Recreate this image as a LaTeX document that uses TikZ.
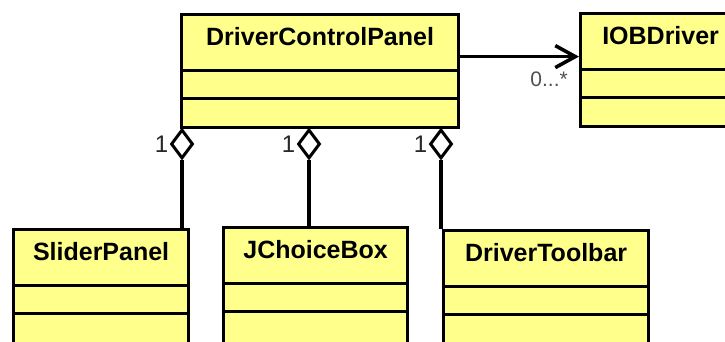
\documentclass[tikz,border=0pt]{standalone}
\usepackage{fontspec}
\setmainfont{Liberation Sans}
\usetikzlibrary{shapes.geometric,arrows.meta,calc}
\definecolor{classfill}{RGB}{255,255,140}
\definecolor{multgray}{RGB}{40,40,40}
\definecolor{assocgray}{RGB}{80,80,80}

% A UML class box: name, x, y of top-left corner, width, height, title
\newcommand\umlclass[6]{%
  \node[classbox, minimum width=#4pt, minimum height=#5pt] (#1) at (#2,#3) {};
  \node[classname] (#1-name) at ($(#1.north)+(0,32)$) {#6};
  \draw[divider] ($(#1.north west)+(0,57)$) -- ($(#1.north east)+(0,57)$);
  \draw[divider] ($(#1.north west)+(0,85)$) -- ($(#1.north east)+(0,85)$);
}

\begin{document}
\begin{tikzpicture}[x=1pt,y=-1pt,
  classbox/.style={draw=black, fill=classfill, line width=3.2pt, inner sep=0pt, anchor=north west},
  classname/.style={font=\fontsize{25}{30}\selectfont\bfseries, anchor=base, inner sep=0pt},
  divider/.style={line width=3pt},
  link/.style={line width=3.2pt},
  agg/.style={shape=diamond, draw=black, fill=white, line width=3pt,
    minimum width=22pt, minimum height=29pt, inner sep=0pt},
  mult/.style={text=multgray, font=\fontsize{24}{26}\selectfont, inner sep=0pt},
  assocmult/.style={text=assocgray, font=\fontsize{21}{23}\selectfont, inner sep=0pt}
]
\useasboundingbox (0,0) rectangle (725,341);
\clip (0,0) rectangle (725,341);
\fill[white] (0,0) rectangle (725,341);

% classes
\umlclass{dcp}{180}{13}{277}{113}{DriverControlPanel}
\umlclass{iob}{579}{12}{160}{113}{IOBDriver}
\umlclass{slider}{12}{228}{175}{130}{SliderPanel}
\umlclass{choice}{222}{226}{184}{130}{JChoiceBox}
\umlclass{toolbar}{442}{229}{205}{130}{DriverToolbar}

% aggregation diamonds under the panel
\node[agg] (d1) at (182,144) {};
\node[agg] (d2) at (309,144) {};
\node[agg] (d3) at (441,144) {};

\foreach \d/\c in {d1/slider, d2/choice, d3/toolbar}{
  \draw[link] (\d.north) -- (\d.north |- dcp.south);
  \draw[link] (\d.south) -- (\d.south |- \c.north);
  \node[mult, anchor=east] at ([xshift=-1pt]\d.west) {1};
}

% directed association to the driver
\coordinate (tip) at ([yshift=14.5pt]dcp.east -| iob.west);
\draw[link, -{Straight Barb[length=20pt, width=22pt, line width=3.6pt]}]
  ([yshift=14.5pt]dcp.east) -- (tip);
\node[assocmult, anchor=north east] at ([xshift=-11pt, yshift=-15pt]tip) {0...*};
\end{tikzpicture}
\end{document}
